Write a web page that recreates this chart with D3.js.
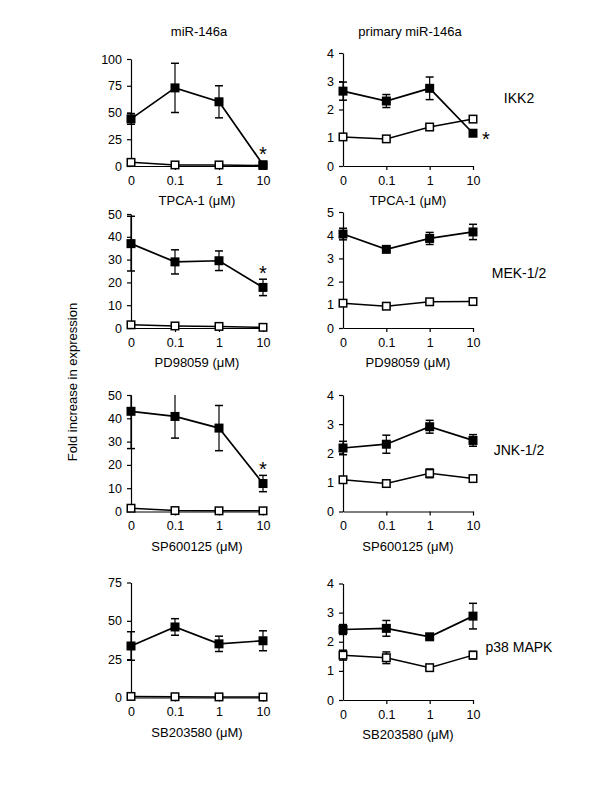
<!DOCTYPE html>
<html>
<head>
<meta charset="utf-8">
<script src="https://cdn.jsdelivr.net/npm/d3@7.9.0/dist/d3.min.js"></script>
<style>
  body { margin: 0; background: #fff; }
  text { font-family: "Liberation Sans", Arial, sans-serif; fill: #000; }
</style>
</head>
<body>
<svg id="chart" width="600" height="800"></svg>
<script>
// ---- data ----
const doses = ["0", "0.1", "1", "10"];
const inhibitors = ["TPCA-1", "PD98059", "SP600125", "SB203580"];
const kinases = ["IKK2", "MEK-1/2", "JNK-1/2", "p38 MAPK"];
const columnTitles = ["miR-146a", "primary miR-146a"];

// mature miR-146a (left column): filled = stimulated, open = unstimulated
const matureStim    = [[44, 73, 60, 1.2], [37, 29, 29.5, 17.8], [43, 40.8, 35.8, 12], [33.6, 46, 35, 37]];
const matureStimErr = [[5, 23, 15, 0], [12, 5.3, 4.3, 3.6], [16, 9.3, 9.7, 3.5], [9.3, 5.4, 5, 6.5]];
const matureCtrl    = [[3.4, 1, 1, 0.5], [1.4, 0.9, 0.7, 0.3], [1.4, 0.4, 0.3, 0.3], [0.7, 0.5, 0.4, 0.3]];
const matureCtrlErr = [[0, 0, 0, 0], [0, 0, 0, 0], [0, 0, 0, 0], [0, 0, 0, 0]];
const matureMax  = [100, 50, 50, 75];
const matureStep = [25, 10, 10, 25];
const matureSig  = [[0, 0, 0, 1], [0, 0, 0, 1], [0, 0, 0, 1], [0, 0, 0, 0]];

// primary miR-146a (right column)
const primaryStim    = [[2.65, 2.3, 2.75, 1.16], [4.05, 3.39, 3.86, 4.14], [2.18, 2.31, 2.91, 2.44], [2.42, 2.46, 2.17, 2.88]];
const primaryStimErr = [[0.32, 0.23, 0.4, 0], [0.25, 0.08, 0.26, 0.33], [0.23, 0.31, 0.22, 0.2], [0.17, 0.27, 0.08, 0.44]];
const primaryCtrl    = [[1.03, 0.96, 1.38, 1.66], [1.07, 0.94, 1.13, 1.14], [1.09, 0.96, 1.31, 1.13], [1.54, 1.45, 1.11, 1.54]];
const primaryCtrlErr = [[0.04, 0.04, 0.08, 0.04], [0.05, 0.04, 0.05, 0.04], [0.1, 0.04, 0.15, 0.1], [0.17, 0.2, 0.06, 0.13]];
const primaryMax  = [4, 5, 4, 4];
const primaryStep = [1, 1, 1, 1];
const primarySig  = [[0, 0, 0, 1], [0, 0, 0, 0], [0, 0, 0, 0], [0, 0, 0, 0]];

// ---- layout ----
const svg = d3.select("#chart");
const colX = [[131, 263], [343, 473]];
const rowBottom = [[166, 166], [328, 328], [511.5, 511.5], [697.5, 700]];
const rowTop = [[59, 53], [214, 212], [395, 395], [582.5, 583.5]];

function drawPanel(col, row) {
  const mature = col === 0;
  const stim = mature ? matureStim[row] : primaryStim[row];
  const stimErr = mature ? matureStimErr[row] : primaryStimErr[row];
  const ctrl = mature ? matureCtrl[row] : primaryCtrl[row];
  const ctrlErr = mature ? matureCtrlErr[row] : primaryCtrlErr[row];
  const yMax = mature ? matureMax[row] : primaryMax[row];
  const step = mature ? matureStep[row] : primaryStep[row];
  const sig = mature ? matureSig[row] : primarySig[row];

  const x = d3.scalePoint().domain(doses).range(colX[col]).padding(0);
  const y = d3.scaleLinear().domain([0, yMax]).range([rowBottom[row][col], rowTop[row][col]]);

  const g = svg.append("g");

  // axes
  const yAxis = g.append("g")
    .attr("transform", `translate(${colX[col][0]},0)`)
    .call(d3.axisLeft(y)
      .tickValues(d3.range(0, yMax + step / 2, step))
      .tickFormat(d3.format("d"))
      .tickSize(4).tickSizeOuter(0).tickPadding(5));
  const xAxis = g.append("g")
    .attr("transform", `translate(0,${rowBottom[row][col]})`)
    .call(d3.axisBottom(x).tickSize(4).tickSizeOuter(0).tickPadding(6));
  [yAxis, xAxis].forEach(a => {
    a.selectAll("path, line").attr("stroke", "#000").attr("stroke-width", 1.2);
    a.selectAll("text").style("font-size", "12.5px").attr("fill", "#000");
  });
  xAxis.selectAll(".tick").filter(d => d === "0").select("line").remove();

  g.append("text")
    .attr("x", (colX[col][0] + colX[col][1]) / 2)
    .attr("y", rowBottom[row][col] + 39)
    .attr("text-anchor", "middle")
    .style("font-size", "13px")
    .text(`${inhibitors[row]} (\u03bcM)`);

  const clampV = v => Math.max(0, Math.min(yMax, v));
  const line = d3.line().x((d, i) => x(doses[i])).y(d => y(d));

  function series(vals, errs, filled) {
    g.append("path")
      .datum(vals)
      .attr("fill", "none")
      .attr("stroke", "#000")
      .attr("stroke-width", filled ? 1.7 : 1.5)
      .attr("d", line);

    vals.forEach((v, i) => {
      const e = errs[i];
      if (e <= 0) return;
      const cx = x(doses[i]);
      const hi = y(clampV(v + e)), lo = y(clampV(v - e));
      g.append("line").attr("x1", cx).attr("x2", cx).attr("y1", hi).attr("y2", lo)
        .attr("stroke", "#000").attr("stroke-width", 1.2);
      if (v + e <= yMax)
        g.append("line").attr("x1", cx - 4).attr("x2", cx + 4).attr("y1", hi).attr("y2", hi)
          .attr("stroke", "#000").attr("stroke-width", 1.5);
      if (v - e >= 0)
        g.append("line").attr("x1", cx - 4).attr("x2", cx + 4).attr("y1", lo).attr("y2", lo)
          .attr("stroke", "#000").attr("stroke-width", 1.5);
    });

    const s = filled ? 9 : 7.5;
    g.selectAll(null)
      .data(vals)
      .enter()
      .append("rect")
      .attr("x", (d, i) => x(doses[i]) - s / 2)
      .attr("y", d => y(d) - s / 2)
      .attr("width", s)
      .attr("height", s)
      .attr("fill", filled ? "#000" : "#fff")
      .attr("stroke", "#000")
      .attr("stroke-width", filled ? 0 : 1.5);
  }

  series(ctrl, ctrlErr, false);
  series(stim, stimErr, true);

  // significance stars
  sig.forEach((s, i) => {
    if (!s) return;
    const cx = x(doses[i]);
    let sx, sy;
    if (mature) {
      const top = Math.min(y(clampV(stim[i] + stimErr[i])), y(stim[i]) - 4.5);
      sx = cx; sy = top - 10;
    } else {
      sx = cx + 13; sy = y(stim[i]) + 2;
    }
    g.append("text")
      .attr("x", sx)
      .attr("y", sy + 11)
      .attr("text-anchor", "middle")
      .style("font-size", "20px")
      .text("*");
  });
}

for (let row = 0; row < 4; row++) {
  drawPanel(0, row);
  drawPanel(1, row);
  svg.append("text")
    .attr("x", 519)
    .attr("y", [98, 273, 450, 647][row] + 5)
    .attr("text-anchor", "middle")
    .style("font-size", "14px")
    .text(kinases[row]);
}

columnTitles.forEach((t, i) => {
  svg.append("text")
    .attr("x", [199, 410][i])
    .attr("y", 36)
    .attr("text-anchor", "middle")
    .style("font-size", "13px")
    .text(t);
});

svg.append("text")
  .attr("transform", "translate(77,382) rotate(-90)")
  .attr("text-anchor", "middle")
  .style("font-size", "13px")
  .text("Fold increase in expression");
</script>
</body>
</html>
